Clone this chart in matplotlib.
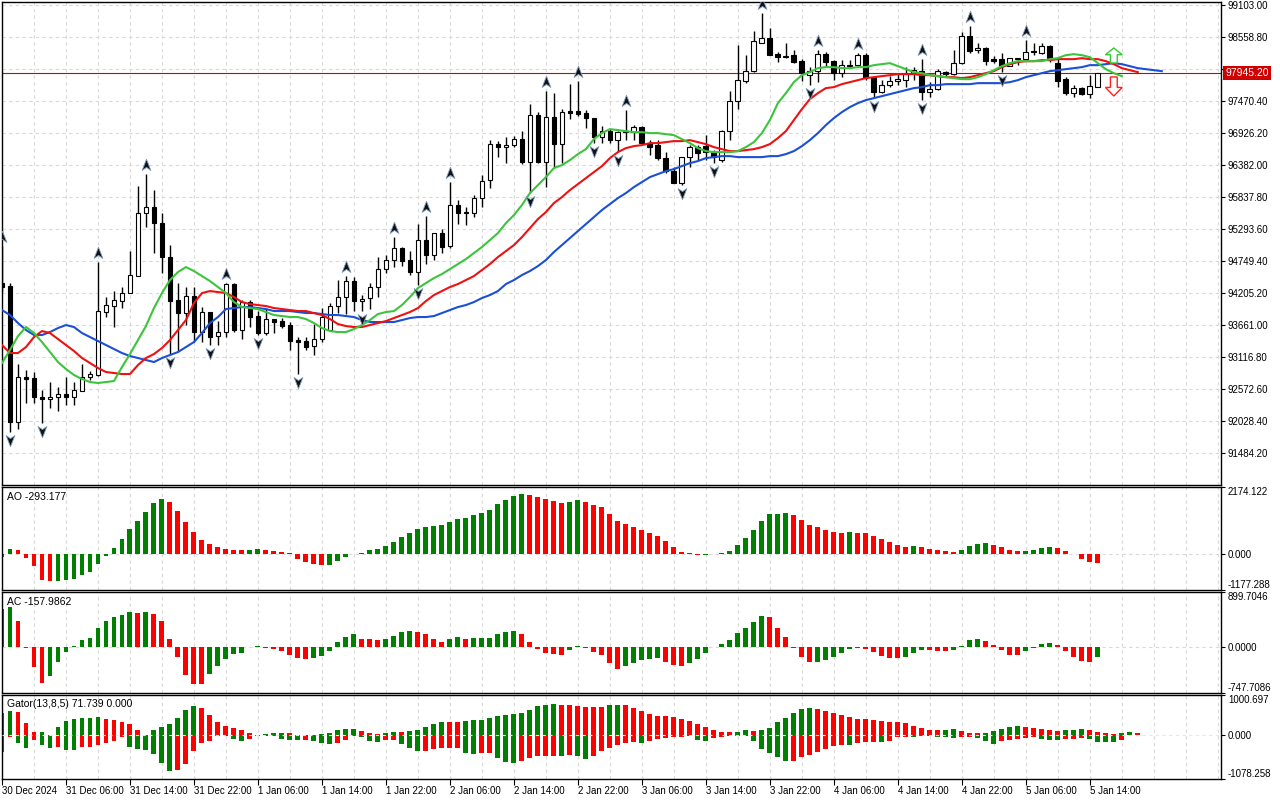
import numpy as np
import matplotlib
matplotlib.use("Agg")
import matplotlib.pyplot as plt
from matplotlib.path import Path
from matplotlib.patches import FancyArrow
from matplotlib.transforms import blended_transform_factory

plt.rcParams["font.family"] = ["Liberation Sans", "DejaVu Sans"]
plt.rcParams["font.size"] = 7

# hourly BTC candles, 30 Dec 22:00 .. 5 Jan 15:00
open_ = np.array([
    94374, 94323, 92011, 92776, 92759, 92436, 92402, 92436, 92487, 92436,
    92538, 92776, 92810, 93881, 93983, 94068, 94204, 94493, 95564, 95666,
    95394, 94816, 94085, 93864, 94153, 93541, 93881, 93473, 93541, 94357,
    93575, 94051, 93813, 93524, 93762, 93728, 93660, 93405, 93388, 93303,
    93422, 93575, 93983, 94136, 94408, 94068, 94119, 94306, 94612, 94765,
    94969, 94765, 94561, 95105, 94850, 95224, 95003, 95700, 95581, 95564,
    95819, 96125, 96737, 96686, 96720, 96822, 96431, 97230, 96431, 97196,
    96737, 97298, 97298, 97264, 97179, 96856, 96958, 96805, 96941, 96941,
    97026, 96754, 96720, 96499, 96278, 96074, 96516, 96686, 96703, 96601,
    96465, 96958, 97468, 97808, 97978, 98454, 98539, 98267, 98216, 98250,
    98148, 97910, 97978, 98267, 98148, 97944, 98063, 98080, 98250, 97876,
    97621, 97740, 97808, 97825, 97944, 97978, 97621, 97672, 97961, 97927,
    98114, 98573, 98335, 98369, 98182, 98182, 98063, 98182, 98182, 98318,
    98284, 98403, 98114, 97842, 97604, 97689, 97587, 97706])
high = np.array([
    95003, 94374, 92997, 92895, 92861, 92555, 92691, 92606, 92776, 92691,
    92997, 92878, 94731, 94136, 94238, 94306, 94918, 96023, 96227, 95955,
    95564, 95020, 94374, 94306, 94306, 93966, 93881, 93728, 94374, 94374,
    94085, 94085, 93898, 93932, 93762, 93779, 93711, 93456, 93456, 93677,
    93949, 94034, 94425, 94493, 94476, 94170, 94374, 94816, 94850, 95156,
    94986, 94918, 95377, 95513, 95224, 95292, 96091, 95785, 95666, 95870,
    96210, 96805, 96788, 96856, 96873, 96958, 97417, 97281, 97638, 97604,
    97332, 97757, 97808, 97315, 97179, 97043, 96992, 96958, 97315, 97060,
    97043, 96805, 96805, 96601, 96346, 96516, 96720, 96720, 96890, 96635,
    96975, 97638, 98420, 98250, 98658, 98964, 98709, 98301, 98454, 98335,
    98182, 98046, 98335, 98301, 98165, 98165, 98165, 98284, 98284, 97876,
    97825, 97893, 97927, 98046, 98046, 98182, 97791, 98012, 97978, 98335,
    98641, 98743, 98454, 98386, 98233, 98284, 98199, 98199, 98505, 98454,
    98454, 98420, 98216, 97876, 97740, 97706, 97910, 97950])
low = np.array([
    94221, 91841, 91892, 92334, 92334, 91994, 92249, 92198, 92300, 92300,
    92538, 92725, 92793, 93796, 93626, 93949, 94204, 94493, 95326, 94884,
    94544, 93167, 93201, 93660, 93371, 93371, 93320, 93320, 93456, 93541,
    93422, 93626, 93490, 93490, 93524, 93609, 93235, 92827, 93235, 93150,
    93371, 93575, 93864, 93847, 93898, 93898, 93932, 94136, 94544, 94646,
    94663, 94510, 94340, 94697, 94765, 94884, 94969, 95377, 95360, 95496,
    95666, 95989, 96516, 96414, 96686, 96397, 95904, 96414, 96006, 96346,
    96414, 97162, 97213, 97009, 96754, 96754, 96754, 96601, 96805, 96805,
    96754, 96550, 96465, 96244, 96074, 96040, 96346, 96465, 96465, 96414,
    96431, 96805, 97332, 97774, 97961, 98454, 98250, 98131, 98199, 98114,
    97808, 97740, 97791, 98046, 97825, 97876, 98029, 98063, 97825, 97519,
    97604, 97706, 97740, 97706, 97825, 97485, 97536, 97655, 97876, 97910,
    98097, 98284, 98284, 98080, 98114, 97961, 98063, 98080, 98165, 98250,
    98267, 98131, 97706, 97570, 97536, 97570, 97519, 97706])
close_ = np.array([
    94306, 92011, 92776, 92742, 92436, 92402, 92436, 92487, 92436, 92555,
    92776, 92827, 93898, 94000, 94085, 94204, 94510, 95564, 95666, 95394,
    94816, 94068, 93864, 94153, 93541, 93881, 93456, 93541, 94357, 93575,
    94051, 93796, 93524, 93762, 93711, 93643, 93388, 93371, 93286, 93422,
    93796, 93983, 94136, 94408, 94068, 94102, 94306, 94612, 94765, 94969,
    94748, 94561, 95105, 94850, 95224, 94986, 95700, 95564, 95564, 95819,
    96108, 96737, 96686, 96720, 96822, 96431, 97230, 96431, 97196, 96737,
    97281, 97264, 97247, 97179, 96856, 96958, 96805, 96941, 96958, 97026,
    96754, 96686, 96499, 96278, 96074, 96516, 96686, 96584, 96601, 96516,
    96958, 97468, 97825, 97978, 98488, 98539, 98250, 98216, 98233, 98131,
    97944, 97978, 98267, 98131, 97944, 98080, 98080, 98250, 97876, 97621,
    97740, 97808, 97842, 97927, 97995, 97621, 97672, 97978, 97927, 98114,
    98573, 98318, 98369, 98148, 98148, 98063, 98199, 98199, 98301, 98301,
    98403, 98199, 97808, 97604, 97689, 97587, 97723, 97945.2])

# Alligator lines (already shifted forward by 8 / 5 / 3 bars)
jaw = [
    93915, 93830, 93694, 93575, 93490, 93490, 93541, 93609, 93660, 93626,
    93524, 93456, 93388, 93320, 93252, 93184, 93133, 93099, 93065, 93031,
    93099, 93150, 93201, 93286, 93371, 93524, 93694, 93796, 93932, 93949,
    93966, 93966, 93949, 93932, 93898, 93898, 93898, 93881, 93864, 93864,
    93847, 93830, 93830, 93813, 93796, 93745, 93711, 93711, 93711, 93711,
    93745, 93779, 93796, 93796, 93813, 93864, 93915, 93966, 94000, 94051,
    94119, 94170, 94238, 94357, 94425, 94510, 94578, 94663, 94765, 94901,
    95020, 95139, 95258, 95377, 95496, 95615, 95717, 95819, 95904, 96006,
    96091, 96176, 96227, 96278, 96312, 96363, 96414, 96448, 96499, 96516,
    96533, 96533, 96516, 96516, 96516, 96516, 96533, 96533, 96567, 96618,
    96703, 96805, 96924, 97060, 97179, 97281, 97366, 97434, 97485, 97519,
    97553, 97587, 97621, 97655, 97689, 97706, 97740, 97740, 97757, 97757,
    97757, 97757, 97774, 97774, 97774, 97774, 97791, 97825, 97876, 97910,
    97944, 97978, 97995, 98012, 98029, 98046, 98080, 98080, 98097, 98114,
    98097, 98063, 98029, 98012, 97995, 97978]
teeth = [
    93320, 93184, 93184, 93286, 93456, 93558, 93524, 93422, 93320, 93218,
    93099, 93014, 92929, 92861, 92844, 92827, 92827, 92980, 93099, 93167,
    93269, 93405, 93575, 93745, 94034, 94204, 94238, 94221, 94204, 94136,
    94051, 94017, 94000, 93983, 93949, 93932, 93915, 93898, 93898, 93864,
    93830, 93762, 93677, 93643, 93626, 93626, 93660, 93694, 93728, 93779,
    93830, 93881, 93949, 94068, 94170, 94238, 94306, 94357, 94425, 94493,
    94595, 94697, 94816, 94918, 95020, 95156, 95309, 95462, 95581, 95734,
    95836, 95955, 96057, 96159, 96261, 96363, 96499, 96601, 96669, 96703,
    96720, 96754, 96754, 96771, 96788, 96788, 96805, 96771, 96737, 96686,
    96652, 96618, 96618, 96635, 96652, 96686, 96737, 96839, 96958, 97145,
    97332, 97502, 97604, 97689, 97706, 97757, 97791, 97825, 97859, 97876,
    97893, 97910, 97927, 97927, 97927, 97910, 97910, 97893, 97876, 97876,
    97859, 97876, 97910, 97944, 97978, 98046, 98097, 98131, 98148, 98148,
    98165, 98165, 98182, 98182, 98182, 98199, 98182, 98182, 98148, 98097,
    98029, 97995, 97961]
lips = [
    93014, 93235, 93473, 93626, 93524, 93371, 93201, 93031, 92912, 92810,
    92742, 92691, 92674, 92691, 92708, 92946, 93167, 93405, 93643, 93949,
    94204, 94425, 94561, 94646, 94578, 94493, 94408, 94306, 94204, 94051,
    93966, 93949, 93932, 93881, 93830, 93813, 93796, 93796, 93762, 93694,
    93609, 93558, 93541, 93541, 93592, 93660, 93745, 93847, 93881, 93898,
    94000, 94136, 94289, 94374, 94459, 94527, 94612, 94697, 94782, 94884,
    94986, 95105, 95224, 95394, 95530, 95700, 95904, 96040, 96176, 96329,
    96380, 96465, 96567, 96652, 96822, 96924, 96992, 96975, 96958, 96941,
    96941, 96924, 96924, 96907, 96890, 96822, 96754, 96669, 96618, 96601,
    96601, 96601, 96618, 96686, 96771, 96924, 97145, 97434, 97604, 97791,
    97910, 97961, 98029, 98046, 98046, 98029, 98029, 98046, 98046, 98080,
    98097, 98114, 98063, 98012, 97961, 97944, 97910, 97893, 97876, 97859,
    97842, 97842, 97876, 97927, 97995, 98063, 98114, 98148, 98148, 98148,
    98148, 98182, 98199, 98250, 98267, 98250, 98216, 98114, 98012, 97944,
    97893]

fractal_up = [0, 12, 18, 28, 43, 49, 53, 56, 68, 72, 78, 95, 102, 107, 115, 121, 128]
fractal_down = [1, 5, 21, 26, 32, 37, 45, 52, 66, 74, 77, 85, 89, 101, 109, 115, 125]

# signal arrows at the right end: (bar, base price, tip price)
buy_arrow = (139, 98117, 98372)
sell_arrow = (139, 97879, 97555)

ao = [
    -112, 168, 134, -123, -402, -838, -894, -871, -849, -827,
    -704, -592, -335, -56, 201, 469, 804, 1072, 1374, 1642,
    1776, 1676, 1407, 1039, 704, 436, 335, 235, 168, 134,
    112, 134, 168, 134, 101, 67, 22, -168, -257, -335,
    -380, -369, -223, -89, -22, 34, 112, 168, 246, 369,
    536, 670, 804, 871, 905, 938, 1039, 1139, 1173, 1273,
    1340, 1441, 1608, 1743, 1877, 1944, 1910, 1843, 1776, 1709,
    1642, 1676, 1743, 1676, 1575, 1508, 1307, 1072, 972, 871,
    771, 670, 570, 402, 235, 67, 11, -45, -34, -22,
    11, 101, 302, 503, 771, 1072, 1301, 1307, 1340, 1273,
    1106, 938, 871, 771, 704, 670, 704, 693, 670, 570,
    469, 369, 302, 235, 240, 229, 168, 134, 101, 67,
    134, 268, 335, 341, 302, 235, 134, 101, 106, 134,
    201, 235, 201, 101, -11, -156, -268, -293.177]
ac = [
    620, 647, 419, -16, -326, -588, -473, -245, -82, 16,
    114, 147, 310, 419, 500, 517, 566, 555, 568, 533,
    419, 141, -163, -452, -604, -609, -435, -310, -196, -114,
    -98, -5, 16, -11, -27, -65, -131, -180, -201, -180,
    -147, -65, 76, 158, 207, 141, 125, 120, 128, 185,
    245, 261, 245, 212, 131, 82, 131, 163, 131, 147,
    150, 152, 212, 245, 261, 212, 82, -27, -92, -109,
    -125, -44, 16, -11, -76, -125, -256, -354, -305, -256,
    -207, -190, -180, -239, -288, -305, -256, -190, -92, -5,
    49, 114, 228, 310, 408, 506, 490, 310, 163, -11,
    -158, -239, -234, -207, -158, -92, -27, -11, -27, -76,
    -141, -174, -180, -158, -92, -44, -49, -60, -65, -44,
    16, 114, 131, 98, 33, -44, -125, -131, -60, -11,
    49, 65, 33, -60, -158, -223, -239, -157.9862]
gator_up = [
    550, 606, 582, 319, 80, 84, 16, 199, 367, 414,
    438, 442, 446, 414, 391, 343, 295, 128, 16, 128,
    199, 271, 438, 630, 725, 677, 510, 343, 223, 175,
    128, 56, 16, 32, 56, 60, 56, 8, 4, 2,
    32, 56, 128, 151, 155, 104, 56, 24, 48, 96,
    88, 100, 143, 215, 287, 335, 331, 327, 359, 383,
    387, 430, 478, 502, 526, 550, 622, 717, 765, 789,
    765, 741, 717, 713, 709, 693, 741, 765, 761, 669,
    598, 526, 478, 474, 454, 406, 359, 287, 215, 143,
    96, 92, 96, 143, 120, 143, 191, 335, 430, 550,
    646, 669, 646, 598, 550, 502, 454, 406, 402, 383,
    359, 335, 331, 311, 239, 191, 143, 139, 143, 147,
    120, 72, 68, 72, 120, 167, 215, 239, 215, 191,
    167, 143, 120, 124, 143, 167, 143, 96, 48, 24,
    64, 80, 71.739]
gator_down = [
    -414, -32, -199, -319, -104, -247, -319, -295, -367, -371,
    -295, -287, -247, -199, -128, -32, -295, -343, -367, -462,
    -677, -869, -845, -701, -391, -199, -128, -16, -8, -80,
    -128, -80, -16, -24, -16, -80, -104, -108, -104, -128,
    -199, -223, -175, -104, -24, -32, -128, -151, -120, -112,
    -207, -303, -383, -375, -327, -319, -311, -303, -438, -454,
    -446, -438, -566, -662, -685, -630, -566, -518, -514, -502,
    -518, -486, -518, -582, -518, -383, -303, -231, -199, -151,
    -183, -135, -80, -64, -48, -40, -16, -104, -143, -64,
    -48, -16, -8, -24, -135, -327, -446, -542, -638, -634,
    -542, -494, -422, -327, -255, -231, -235, -183, -159, -155,
    -159, -135, -40, -36, -40, -16, -12, -40, -44, -72,
    -40, -36, -72, -143, -215, -143, -112, -88, -64, -40,
    -88, -112, -116, -88, -84, -64, -88, -159, -163, -167,
    -120]

time_labels = ["30 Dec 2024", "31 Dec 06:00", "31 Dec 14:00", "31 Dec 22:00",
               "1 Jan 06:00", "1 Jan 14:00", "1 Jan 22:00", "2 Jan 06:00",
               "2 Jan 14:00", "2 Jan 22:00", "3 Jan 06:00", "3 Jan 14:00",
               "3 Jan 22:00", "4 Jan 06:00", "4 Jan 14:00", "4 Jan 22:00",
               "5 Jan 06:00", "5 Jan 14:00"]
price_ticks = [91484.20, 92028.40, 92572.60, 93116.80, 93661.00, 94205.20,
               94749.40, 95293.60, 95837.80, 96382.00, 96926.20, 97470.40,
               98014.60, 98558.80, 99103.00]
price_range = (90939.6, 99154.0)
ao_range = (-1177.288, 2174.122)
ac_range = (-747.7086, 899.7046)
gator_range = (-1078.258, 1000.697)

GREEN = "#008000"
RED = "#ff0000"
GRID = "#d9d9d9"
DASH = (0, (3, 3))
W, H = 1280, 800


def add_panel(fig, top, bottom):
    return fig.add_axes([2 / W, 1 - bottom / H, 1219 / W, (bottom - top) / H])


def style_panel(ax, show_dates=False):
    ax.set_xlim(0, 152.4)
    ax.set_xticks(np.arange(0, 8 * len(time_labels), 8))
    ax.set_xticks(np.arange(4, 153, 4), minor=True)
    ax.grid(which="both", axis="x", color=GRID, ls=DASH, lw=0.8)
    ax.tick_params(which="minor", length=0)
    if show_dates:
        ax.set_xticklabels(time_labels, ha="left")
        ax.tick_params(axis="x", bottom=True, labelbottom=True, direction="out",
                       length=4, pad=1, labelsize=7)
    else:
        ax.tick_params(axis="x", bottom=False, labelbottom=False)
    ax.yaxis.tick_right()
    ax.tick_params(axis="y", direction="out", length=3, pad=2, labelsize=7)
    for spine in ax.spines.values():
        spine.set_color("black")
        spine.set_linewidth(1)
    ax.set_axisbelow(True)


def change_colors(values, first, magnitude=False):
    # green when the bar grew against the previous one, red otherwise
    vals = np.asarray(values, dtype=float)
    if magnitude:
        vals = np.abs(vals)
    return [first] + [GREEN if b > a else RED for a, b in zip(vals[:-1], vals[1:])]


def histogram_panel(ax, values, colors, rng, fmt, title, show_dates=False):
    style_panel(ax, show_dates)
    ax.bar(np.arange(len(values)), values, width=0.62, color=colors, lw=0, zorder=2)
    ax.set_ylim(*rng)
    ax.set_yticks([rng[0], 0, rng[1]])
    labels = ax.set_yticklabels([fmt.format(v) for v in (rng[0], 0, rng[1])])
    labels[0].set_va("bottom")
    labels[2].set_va("top")
    ax.text(0.004, 0.955, title, transform=ax.transAxes, ha="left", va="top", fontsize=7.5)


fig = plt.figure(figsize=(12.8, 8), dpi=100)
ax = add_panel(fig, 2, 485)
ax_ao = add_panel(fig, 487, 590)
ax_ac = add_panel(fig, 592, 693)
ax_gt = add_panel(fig, 695, 779)

# ---- price panel
style_panel(ax)
x = np.arange(len(close_))
bull = close_ >= open_
ax.vlines(x, low, high, color="black", lw=1, zorder=3)
ax.bar(x, np.maximum(np.abs(close_ - open_), 17), bottom=np.minimum(open_, close_),
       width=0.6, color=np.where(bull, "white", "black"), edgecolor="black",
       lw=0.8, zorder=4)

ax.plot(np.arange(len(jaw)), jaw, color="#1a4fd6", lw=1.5, zorder=5)
ax.plot(np.arange(len(teeth)), teeth, color="#ee1111", lw=1.5, zorder=5)
ax.plot(np.arange(len(lips)), lips, color="#3cc43c", lw=1.5, zorder=5)

up_marker = Path([(0, 1), (0.7, -0.8), (0, -0.3), (-0.7, -0.8), (0, 1)],
                 [Path.MOVETO, Path.LINETO, Path.LINETO, Path.LINETO, Path.CLOSEPOLY])
down_marker = Path([(0, -1), (0.7, 0.8), (0, 0.3), (-0.7, 0.8), (0, -1)],
                   [Path.MOVETO, Path.LINETO, Path.LINETO, Path.LINETO, Path.CLOSEPOLY])
ax.plot(fractal_up, high[fractal_up] + 150, ls="none", marker=up_marker, ms=9,
        mfc="#111111", mec="#7f9cc0", mew=0.6, zorder=6)
ax.plot(fractal_down, low[fractal_down] - 130, ls="none", marker=down_marker, ms=9,
        mfc="#111111", mec="#7f9cc0", mew=0.6, zorder=6)

for (bar, base, tip), col in ((buy_arrow, "#36c936"), (sell_arrow, "#ff2020")):
    ax.add_patch(FancyArrow(bar, base, 0, tip - base, width=0.85, head_width=2.1,
                            head_length=abs(tip - base) * 0.45,
                            length_includes_head=True, fc="white", ec=col,
                            lw=1, zorder=6))

last = close_[-1]
ax.axhline(last, color="#b01010", lw=0.8, zorder=2)
ax.set_ylim(*price_range)
ax.set_yticks(price_ticks)
# the tick next to the last price is hidden under the price tag
ax.set_yticklabels(["" if abs(p - last) < 200 else f"{p:.2f}" for p in price_ticks])
ax.grid(which="major", axis="y", color=GRID, ls=DASH, lw=0.8)
trans = blended_transform_factory(ax.transAxes, ax.transData)
ax.text(1.0035, last, f"{last:.2f}", transform=trans, ha="left", va="center",
        color="white", fontsize=7.5, zorder=10, clip_on=False,
        bbox=dict(boxstyle="square,pad=0.22", fc="#d00000", ec="none"))

# ---- oscillators
histogram_panel(ax_ao, ao, change_colors(ao, GREEN), ao_range, "{:.3f}",
                f"AO {ao[-1]:.3f}")
ax_ao.axhline(0, color=GRID, ls=DASH, lw=0.8, zorder=1)

histogram_panel(ax_ac, ac, change_colors(ac, GREEN), ac_range, "{:.4f}",
                f"AC {ac[-1]:.4f}")
ax_ac.axhline(0, color=GRID, ls=DASH, lw=0.8, zorder=1)

histogram_panel(ax_gt, gator_up, change_colors(gator_up, GREEN, magnitude=True),
                gator_range, "{:.3f}", f"Gator(13,8,5) {gator_up[-1]:.3f} 0.000",
                show_dates=True)
ax_gt.bar(np.arange(len(gator_down)), gator_down, width=0.62,
          color=change_colors(gator_down, RED, magnitude=True), lw=0, zorder=2)
ax_gt.axhline(0, color="#e8e8e8", ls=DASH, lw=0.8, zorder=3)

fig.savefig("out.png", dpi=100, facecolor="white")
